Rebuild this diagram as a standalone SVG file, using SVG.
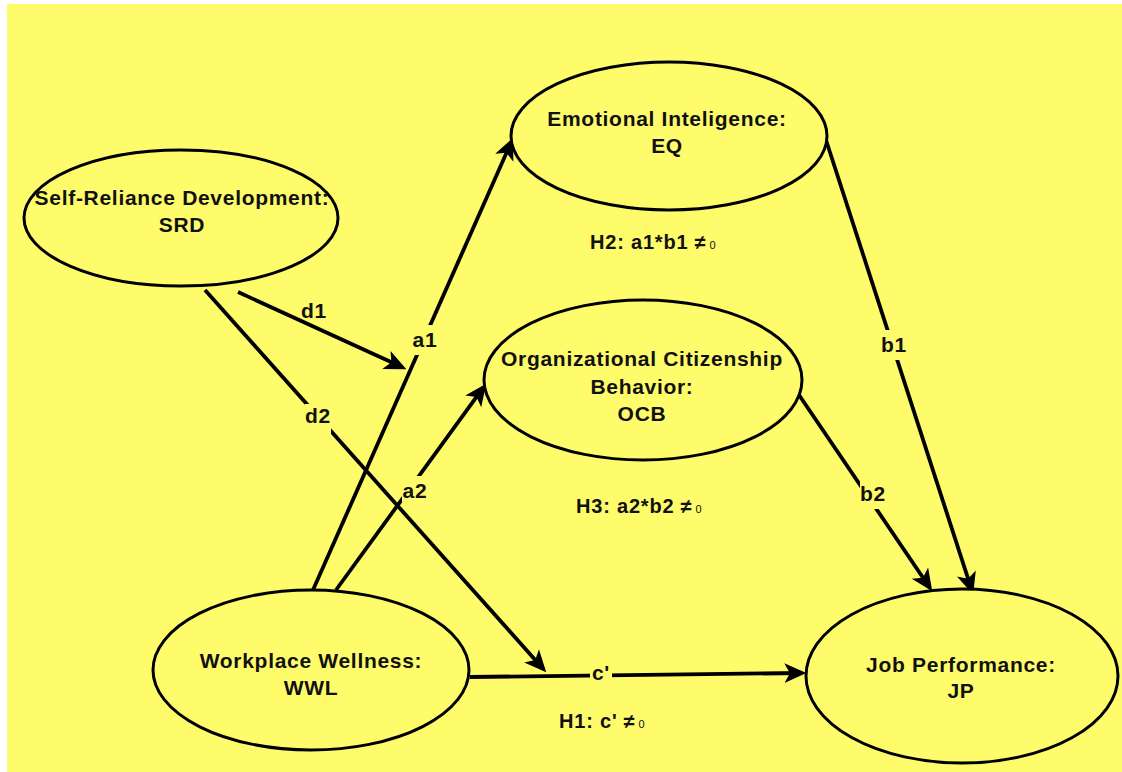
<svg xmlns="http://www.w3.org/2000/svg" width="1122" height="772" viewBox="0 0 1122 772">
<style>
.node{fill:#FFFC6C;stroke:#000;stroke-width:3}
.t{font-family:"Liberation Sans",Arial,sans-serif;font-weight:bold;font-size:21px;letter-spacing:0.7px;fill:#111;text-anchor:middle}
.h{font-family:"Liberation Sans",Arial,sans-serif;font-weight:bold;font-size:20px;letter-spacing:0.8px;fill:#111}
.z{font-size:11px;font-weight:normal;letter-spacing:0}
.e{fill:none;stroke:#000;stroke-width:3.8;marker-end:url(#arr)}
.bg{fill:#FFFC6C}
</style>
<defs>
<marker id="arr" viewBox="0 0 20 20" refX="16" refY="10" markerWidth="22" markerHeight="22" markerUnits="userSpaceOnUse" orient="auto">
<path d="M0,1 L20,10 L0,19 L5,10 Z" fill="#000"/>
</marker>
</defs>
<rect x="0" y="0" width="1122" height="772" fill="#fff"/>
<rect x="7" y="4" width="1115" height="768" fill="#FFFC6C"/>
<g id="connectors">
<line class="e" x1="313" y1="590" x2="511.4" y2="141.7"/>
<line class="e" x1="336" y1="590" x2="483.6" y2="387.2"/>
<line class="e" x1="238" y1="292" x2="402.4" y2="367.3"/>
<line class="e" x1="205" y1="290" x2="543.3" y2="669"/>
<line class="e" x1="470" y1="677" x2="802" y2="673"/>
<line class="e" x1="826" y1="140" x2="971.8" y2="590.2"/>
<line class="e" x1="797" y1="392" x2="929.8" y2="587.7"/>
<rect class="bg" x="412" y="325" width="24" height="30"/>
<rect class="bg" x="402" y="476" width="26" height="30"/>
<rect class="bg" x="305" y="404" width="26" height="30"/>
<rect class="bg" x="590" y="662" width="22" height="24"/>
<rect class="bg" x="881" y="330" width="26" height="30"/>
<rect class="bg" x="860" y="479" width="26" height="30"/>
<text class="t" x="314" y="318">d1</text>
<text class="t" x="425" y="347">a1</text>
<text class="t" x="318" y="423">d2</text>
<text class="t" x="415" y="498">a2</text>
<text class="t" x="601" y="680">c'</text>
<text class="t" x="894" y="352">b1</text>
<text class="t" x="873" y="501">b2</text>
</g>
<g id="srd">
<ellipse class="node" cx="181" cy="218" rx="157" ry="68"/>
<text class="t" x="182" y="205">Self-Reliance Development:</text>
<text class="t" x="182" y="232">SRD</text>
</g>
<g id="eq">
<ellipse class="node" cx="669" cy="136" rx="158" ry="74"/>
<text class="t" x="667" y="126">Emotional Inteligence:</text>
<text class="t" x="667" y="153">EQ</text>
</g>
<g id="ocb">
<ellipse class="node" cx="643" cy="380" rx="159" ry="80"/>
<text class="t" x="642" y="366">Organizational Citizenship</text>
<text class="t" x="642" y="394">Behavior:</text>
<text class="t" x="642" y="421">OCB</text>
</g>
<g id="wwl">
<ellipse class="node" cx="311" cy="670" rx="158" ry="80"/>
<text class="t" x="311" y="668">Workplace Wellness:</text>
<text class="t" x="311" y="695">WWL</text>
</g>
<g id="jp">
<ellipse class="node" cx="962" cy="676" rx="156" ry="87"/>
<text class="t" x="961" y="672">Job Performance:</text>
<text class="t" x="961" y="698">JP</text>
</g>
<g id="hypotheses">
<text class="h" x="590" y="249">H2: a1*b1 ≠<tspan class="z" dx="3">0</tspan></text>
<text class="h" x="576" y="513">H3: a2*b2 ≠<tspan class="z" dx="3">0</tspan></text>
<text class="h" x="559" y="728">H1: c' ≠<tspan class="z" dx="3">0</tspan></text>
</g>
</svg>
